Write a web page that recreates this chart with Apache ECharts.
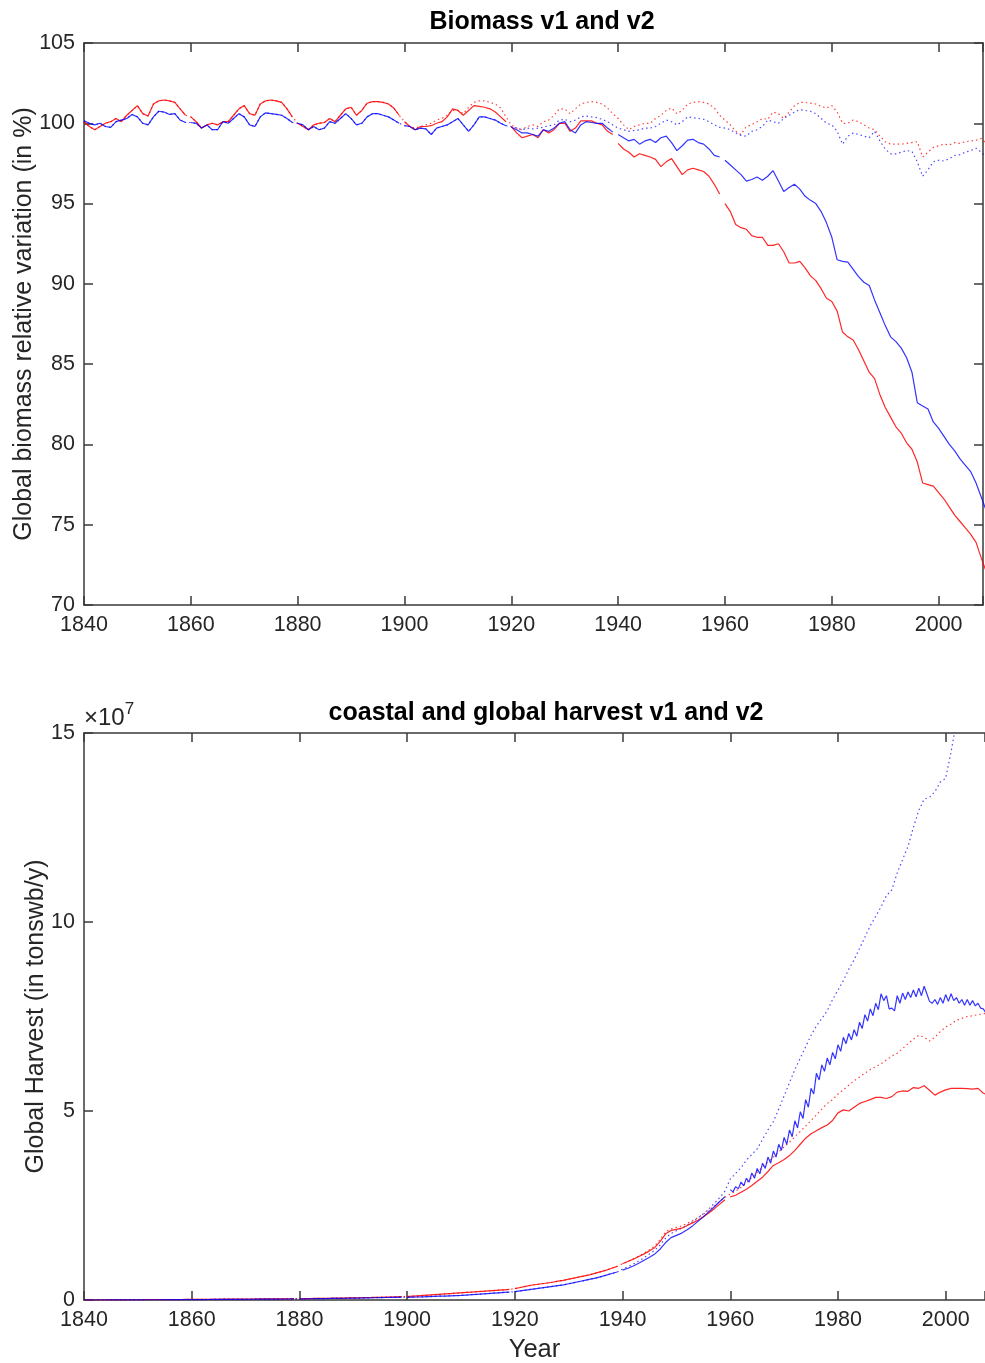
<!DOCTYPE html>
<html>
<head>
<meta charset="utf-8">
<script src="https://cdn.jsdelivr.net/npm/echarts@6/dist/echarts.min.js"></script>
<style>
html,body{margin:0;padding:0;background:#fff;}
#main{width:985px;height:1363px;}
</style>
</head>
<body>
<div id="main"></div>
<script>
// ---------------- DATA ----------------
const firstYear = 1840, lastYear = 2009;
const xTicks = [1840, 1860, 1880, 1900, 1920, 1940, 1960, 1980, 2000];
const biomassTicks = [70, 75, 80, 85, 90, 95, 100, 105];
const harvestTicks = [0, 5, 10, 15];           // in units of 10^7 tons
const titleTop = 'Biomass v1 and v2';
const titleBottom = 'coastal and global harvest v1 and v2';

// Biomass relative variation (%), annual 1840..2009
// shared early part (v1 == v2)
const bioRedEarly = [
  100.1, 99.8, 99.6, 99.8, 100.0, 100.1, 100.3, 100.1, 100.5, 100.8, 101.1, 100.6, 100.45, 101.2, 101.4, 101.45, 101.4, 101.3, 100.9, 100.5,
  100.4, 100.1, 99.7, 99.9, 100.0, 99.9, 100.1, 100.1, 100.5, 100.9, 101.1, 100.6, 100.5, 101.2, 101.4, 101.45, 101.4, 101.3, 100.9, 100.4,
  100.0, 99.8, 99.6, 99.9, 100.0, 100.05, 100.3, 100.1, 100.5, 100.9, 101.0, 100.5, 100.8, 101.25, 101.35, 101.35, 101.3, 101.2, 100.95, 100.5
];
const bioRedV1Late = [
  100.1, 99.8, 99.6, 99.8, 99.8, 99.85, 100.0, 100.1, 100.4, 100.9, 100.8, 100.5, 100.8, 101.1, 101.05, 101.0, 100.9, 100.7, 100.4, 100.1,
  99.8, 99.4, 99.1, 99.2, 99.3, 99.1, 99.6, 99.4, 99.6, 100.0, 100.0, 99.5, 99.7, 100.15, 100.15, 100.15, 100.0, 99.9, 99.5, 99.3,
  98.75, 98.4, 98.2, 97.9, 98.1, 98.0, 97.9, 97.75, 97.3, 97.6, 97.8, 97.3, 96.8, 97.1, 97.2, 97.1, 97.0, 96.7, 96.2, 95.6,
  95.0, 94.5, 93.7, 93.5, 93.4, 93.0, 92.9, 92.9, 92.4, 92.4, 92.5, 92.0, 91.3, 91.3, 91.4, 91.0, 90.5, 90.2, 89.7, 89.1,
  88.9, 88.3, 87.0, 86.7, 86.5, 85.9, 85.2, 84.5, 84.1, 83.1, 82.3, 81.7, 81.1, 80.7, 80.1, 79.7, 78.9, 77.6, 77.5, 77.4,
  77.0, 76.6, 76.1, 75.6, 75.2, 74.8, 74.4, 73.9, 72.9, 72.0
];
const bioRedV2Late = [
  100.1, 99.8, 99.7, 99.8, 99.9, 100.0, 100.2, 100.3, 100.5, 100.8, 100.8, 100.6, 101.0, 101.3, 101.4, 101.4, 101.3, 101.2, 100.95, 100.4,
  99.9, 99.7, 99.6, 99.8, 99.9, 99.8, 100.1, 100.2, 100.5, 100.9, 100.9, 100.6, 100.9, 101.2, 101.3, 101.35, 101.3, 101.2, 100.95, 100.6,
  100.3, 99.9, 99.6, 99.8, 99.9, 100.0, 100.0, 100.3, 100.5, 100.8, 100.95, 100.6, 100.8, 101.2, 101.3, 101.35, 101.3, 101.2, 100.95, 100.5,
  100.2, 99.9, 99.5, 99.3, 99.8, 99.9, 100.1, 100.3, 100.25, 100.7, 100.6, 100.3, 100.7, 101.1, 101.3, 101.3, 101.25, 101.2, 101.05, 100.95,
  101.1, 100.7, 100.0, 100.0, 100.2, 100.1, 99.9, 99.7, 99.6, 99.2, 98.85, 98.7, 98.7, 98.7, 98.75, 98.8, 98.85, 97.9, 98.2, 98.5,
  98.6, 98.7, 98.65, 98.8, 98.75, 98.85, 98.9, 98.95, 99.05, 98.7
];
const bioBlueEarly = [
  100.15, 100.0, 99.9, 100.0, 99.8, 99.75, 100.1, 100.2, 100.3, 100.55, 100.4, 100.0, 99.9, 100.4, 100.75, 100.7, 100.55, 100.6, 100.2, 100.05,
  100.05, 100.0, 99.7, 99.9, 99.6, 99.6, 100.1, 100.0, 100.3, 100.6, 100.4, 99.9, 99.8, 100.4, 100.65, 100.6, 100.55, 100.5, 100.3, 100.05,
  100.0, 99.9, 99.6, 99.8, 99.6, 99.7, 100.1, 100.0, 100.3, 100.6, 100.3, 99.9, 100.0, 100.4, 100.6, 100.6, 100.5, 100.4, 100.2, 100.0,
  99.85, 99.8, 99.6, 99.7, 99.65, 99.3, 99.7, 99.8, 99.9, 100.1, 100.3, 99.9, 99.5, 99.9, 100.4, 100.4, 100.3, 100.2, 100.0, 99.85
];
const bioBlueV1Late = [
  99.75, 99.6, 99.4, 99.4, 99.3, 99.2, 99.6, 99.5, 99.7, 100.0, 100.1, 99.6, 99.4, 99.9, 100.1, 100.05, 100.0, 100.0, 99.7, 99.45,
  99.3, 99.1, 98.9, 99.0, 98.7, 98.9, 99.0, 98.8, 99.1, 99.2, 98.8, 98.3, 98.6, 98.95, 99.0, 98.8, 98.7, 98.4, 98.0, 97.9,
  97.7, 97.4, 97.1, 96.8, 96.4, 96.5, 96.65, 96.45, 96.7, 97.05, 96.4, 95.75, 96.0, 96.2, 95.9, 95.45, 95.2, 95.0, 94.5, 93.8,
  92.9, 91.5, 91.4, 91.35, 90.9, 90.45, 90.1, 89.9, 89.0, 88.2, 87.4, 86.7, 86.4, 86.0, 85.4, 84.5, 82.6, 82.4, 82.2, 81.4,
  81.0, 80.5, 80.0, 79.6, 79.1, 78.7, 78.3, 77.6, 76.7, 75.8
];
const bioBlueV2Late = [
  99.8, 99.7, 99.6, 99.7, 99.65, 99.7, 99.75, 99.85, 99.9, 100.2, 100.25, 100.1, 100.2, 100.4, 100.45, 100.4, 100.35, 100.25, 100.1, 99.9,
  99.7, 99.6, 99.5, 99.55, 99.6, 99.7, 99.7, 99.8, 100.0, 100.2, 100.1, 99.9, 100.1, 100.4, 100.35, 100.3, 100.25, 100.1, 99.9, 99.75,
  99.7, 99.6, 99.4, 99.25, 99.2, 99.5, 99.6, 99.8, 100.2, 100.1, 100.0, 100.3, 100.5, 100.7, 100.85, 100.8, 100.75, 100.6, 100.3, 100.0,
  99.9, 99.5, 98.7, 99.2, 99.4, 99.3, 99.2, 99.1, 99.5, 98.9, 98.4, 98.1, 98.1, 98.2, 98.3, 98.25, 97.6, 96.7, 97.1, 97.6,
  97.7, 97.65, 97.8, 98.0, 98.05, 98.2, 98.3, 98.45, 98.2, 97.8
];

// Harvest (10^7 tons wb / y), annual 1840..2009
const harvRedEarly = [
  0, 0, 0, 0, 0, 0.002, 0.003, 0.004, 0.005, 0.006, 0.007, 0.008, 0.009, 0.01, 0.01, 0.011, 0.012, 0.012, 0.013, 0.014,
  0.015, 0.016, 0.017, 0.018, 0.019, 0.02, 0.021, 0.022, 0.023, 0.024, 0.025, 0.026, 0.027, 0.028, 0.029, 0.03, 0.031, 0.032, 0.033, 0.034,
  0.035, 0.037, 0.039, 0.041, 0.043, 0.045, 0.047, 0.05, 0.052, 0.055, 0.058, 0.06, 0.063, 0.066, 0.07, 0.073, 0.077, 0.08, 0.084, 0.088,
  0.09, 0.1, 0.11, 0.12, 0.13, 0.14, 0.15, 0.16, 0.17, 0.18, 0.19, 0.2, 0.21, 0.22, 0.23, 0.24, 0.25, 0.26, 0.27, 0.28,
  0.3, 0.33, 0.36, 0.39, 0.41, 0.43, 0.45, 0.47, 0.5, 0.52, 0.55, 0.58, 0.61, 0.64, 0.67, 0.71, 0.75, 0.79, 0.84, 0.89
];
const harvRedV1Late = [
  0.96, 1.02, 1.08, 1.15, 1.22, 1.3, 1.39, 1.55, 1.75, 1.84, 1.87, 1.9, 1.97, 2.04, 2.11, 2.2, 2.3, 2.41, 2.53, 2.65,
  2.73, 2.77, 2.85, 2.93, 3.03, 3.14, 3.25, 3.4, 3.56, 3.63, 3.72, 3.82, 3.96, 4.12, 4.28, 4.4, 4.48, 4.56, 4.63, 4.75,
  4.95, 5.03, 5.0, 5.1, 5.2, 5.25, 5.3, 5.36, 5.36, 5.33, 5.38, 5.5, 5.53, 5.52, 5.62, 5.6, 5.67, 5.55, 5.42, 5.5,
  5.56, 5.6, 5.6, 5.6, 5.59, 5.58, 5.6, 5.47, 5.42, 5.4
];
const harvRedV2Late = [
  0.96, 1.02, 1.09, 1.16, 1.24, 1.33, 1.43, 1.6, 1.8, 1.88, 1.92, 1.96, 2.03, 2.1, 2.18, 2.27, 2.37, 2.48, 2.6, 2.72,
  2.8, 2.88, 2.98, 3.1, 3.24, 3.38, 3.52, 3.65, 3.78, 3.92, 4.05, 4.18, 4.32, 4.46, 4.6, 4.75, 4.9, 5.05, 5.2, 5.3,
  5.45, 5.56, 5.68, 5.8, 5.9, 6.0, 6.1, 6.17, 6.25, 6.35, 6.45, 6.53, 6.65, 6.78, 6.9, 7.0, 6.95, 6.85, 6.95, 7.1,
  7.22, 7.3, 7.4, 7.45, 7.5, 7.52, 7.55, 7.57, 7.6, 7.62
];
const harvBlueEarly = [
  0, 0, 0, 0, 0, 0.001, 0.002, 0.003, 0.003, 0.004, 0.005, 0.005, 0.006, 0.007, 0.007, 0.008, 0.009, 0.009, 0.01, 0.01,
  0.011, 0.012, 0.012, 0.013, 0.014, 0.015, 0.015, 0.016, 0.017, 0.018, 0.019, 0.02, 0.021, 0.022, 0.023, 0.024, 0.025, 0.026, 0.027, 0.028,
  0.03, 0.031, 0.033, 0.035, 0.037, 0.039, 0.041, 0.043, 0.045, 0.047, 0.05, 0.052, 0.055, 0.058, 0.06, 0.063, 0.066, 0.069, 0.072, 0.075,
  0.07, 0.075, 0.08, 0.085, 0.09, 0.095, 0.1, 0.105, 0.11, 0.115, 0.12, 0.13, 0.14, 0.15, 0.16, 0.17, 0.18, 0.19, 0.2, 0.21,
  0.22, 0.24, 0.26, 0.28, 0.3, 0.32, 0.34, 0.36, 0.38, 0.4, 0.43, 0.46, 0.49, 0.52, 0.55, 0.58, 0.62, 0.66, 0.7, 0.74
];
const harvBlueV1Mid = [ // 1940..1959 annual
  0.79, 0.84, 0.9, 0.97, 1.05, 1.13, 1.22, 1.35, 1.52, 1.65, 1.71, 1.77, 1.86, 1.96, 2.08, 2.2, 2.33, 2.46, 2.6, 2.73
];
const harvBlueV1HalfYear = [ // 1960.0, 1960.5, ... 2009.0
  2.92, 2.86, 3.0, 2.94, 3.12, 3.02, 3.22, 3.12, 3.36, 3.22, 3.48, 3.34, 3.62, 3.48, 3.78, 3.62, 3.94, 3.78, 4.12, 3.96,
  4.3, 4.12, 4.5, 4.32, 4.74, 4.55, 4.98, 4.8, 5.3, 5.1, 5.6, 5.45, 6.0, 5.82, 6.22, 6.05, 6.4, 6.22, 6.55, 6.38,
  6.75, 6.58, 6.95, 6.78, 7.05, 6.88, 7.15, 6.98, 7.35, 7.18, 7.55, 7.38, 7.7, 7.52, 7.85, 7.68, 8.1, 7.92, 8.05, 7.7,
  7.72, 7.65, 8.05, 7.85, 8.12, 7.95, 8.15, 8.0, 8.2, 8.02, 8.25, 8.05, 8.3, 8.1, 7.9, 7.85, 7.95, 7.82, 8.0, 7.85,
  8.08, 7.9, 8.1, 7.92, 8.0, 7.85, 7.95, 7.8, 7.95, 7.8, 7.92, 7.78, 7.85, 7.72, 7.7, 7.58, 7.6, 7.52, 7.5
];
const harvBlueV2Late = [
  0.82, 0.88, 0.95, 1.03, 1.12, 1.22, 1.32, 1.46, 1.64, 1.76, 1.83, 1.9, 1.98, 2.07, 2.17, 2.28, 2.41, 2.55, 2.7, 2.88,
  3.2, 3.35, 3.5, 3.7, 3.85, 4.0, 4.25, 4.5, 4.72, 5.05, 5.4, 5.75, 6.1, 6.4, 6.7, 7.0, 7.25, 7.45, 7.65, 7.95,
  8.2, 8.45, 8.75, 9.0, 9.3, 9.6, 9.9, 10.15, 10.4, 10.7, 10.85, 11.3, 11.65, 12.0, 12.5, 12.95, 13.25, 13.3, 13.45, 13.7,
  13.8, 14.5, 15.3, 15.8, 16.2, 16.6, 17.0, 17.4, 17.8, 18.2
];
const topBreaks = [1860, 1880, 1900, 1920, 1940, 1960];
const bottomBreaks = [1880, 1900, 1920, 1940, 1960];

// ---------------- BUILD ----------------
const years = [];
for (let y = firstYear; y <= lastYear; y++) years.push(y);
const halfYears = harvBlueV1HalfYear.map((_, i) => 1960 + i / 2);

function pairs(xs, vs) { return xs.map((x, i) => [x, vs[i]]); }
function withBreaks(xs, vs, breaks) {
  const out = [];
  xs.forEach((x, i) => {
    if (i > 0 && breaks.indexOf(x) >= 0) out.push([x - 0.5, '-']);
    out.push([x, vs[i]]);
  });
  return out;
}

const bioRedV1 = bioRedEarly.concat(bioRedV1Late);
const bioRedV2 = bioRedEarly.concat(bioRedV2Late);
const bioBlueV1 = bioBlueEarly.concat(bioBlueV1Late);
const bioBlueV2 = bioBlueEarly.concat(bioBlueV2Late);
const harvRedV1 = harvRedEarly.concat(harvRedV1Late);
const harvRedV2 = harvRedEarly.concat(harvRedV2Late);
const harvBlueV2 = harvBlueEarly.concat(harvBlueV2Late);
const harvBlueV1X = years.slice(0, 120).concat(halfYears);
const harvBlueV1 = harvBlueEarly.concat(harvBlueV1Mid).concat(harvBlueV1HalfYear);

const RED = 'rgba(255,0,0,0.85)', BLUE = 'rgba(0,0,255,0.8)';
const RED_DOT = 'rgba(255,0,0,0.75)', BLUE_DOT = 'rgba(0,0,255,0.7)';
const AX = '#3a3a3a', TXT = '#262626';
const FONT = 'Liberation Sans, Arial, Helvetica, sans-serif';

function xAx(grid, pos, max, opts) {
  return Object.assign({
    type: 'value', gridIndex: grid, position: pos, min: firstYear, max: max, interval: 20,
    nameMoveOverlap: false,
    axisLine: { show: true, onZero: false, lineStyle: { color: AX, width: 1.5 } },
    axisTick: { show: true, inside: true, length: 9, lineStyle: { color: AX, width: 1.5 } },
    axisLabel: pos === 'bottom' ? {
      show: true, fontSize: 21.5, color: TXT, fontFamily: FONT, margin: 9,
      formatter: v => xTicks.indexOf(v) >= 0 ? String(v) : ''
    } : { show: false },
    splitLine: { show: false }
  }, opts || {});
}
function yAx(grid, pos, ticks, opts) {
  return Object.assign({
    type: 'value', gridIndex: grid, position: pos,
    min: ticks[0], max: ticks[ticks.length - 1], interval: ticks[1] - ticks[0],
    nameMoveOverlap: false,
    axisLine: { show: true, onZero: false, lineStyle: { color: AX, width: 1.5 } },
    axisTick: { show: true, inside: true, length: 9, lineStyle: { color: AX, width: 1.5 } },
    axisLabel: pos === 'left' ? { show: true, fontSize: 21.5, color: TXT, fontFamily: FONT, margin: 9 } : { show: false },
    splitLine: { show: false }
  }, opts || {});
}
function line(xi, yi, data, color, dotted) {
  return {
    type: 'line', xAxisIndex: xi, yAxisIndex: yi, data: data, symbol: 'none', showSymbol: false,
    clip: true, connectNulls: false, silent: true,
    lineStyle: { color: color, width: 1.2, type: dotted ? [1.5, 3] : 'solid' }
  };
}

const chart = echarts.init(document.getElementById('main'));
chart.setOption({
  animation: false,
  backgroundColor: '#fff',
  title: [
    { text: titleTop, left: 537, top: 5, textAlign: 'center',
      textStyle: { fontSize: 25, fontWeight: 'bold', color: '#000', fontFamily: FONT } },
    { text: titleBottom, left: 541, top: 696, textAlign: 'center',
      textStyle: { fontSize: 25, fontWeight: 'bold', color: '#000', fontFamily: FONT } }
  ],
  graphic: [{
    type: 'text', left: 84, top: 701,
    style: {
      text: '{a|×10}{b|7}',
      rich: {
        a: { fontSize: 24, fontFamily: FONT, fill: TXT, verticalAlign: 'bottom', lineHeight: 29 },
        b: { fontSize: 17, fontFamily: FONT, fill: TXT, verticalAlign: 'top', lineHeight: 29 }
      }
    }
  }],
  grid: [
    { left: 84, top: 43, width: 899, height: 562, outerBoundsMode: 'none', containLabel: false },
    { left: 84, top: 733, width: 901, height: 567, outerBoundsMode: 'none', containLabel: false }
  ],
  xAxis: [
    xAx(0, 'bottom', 2008.3),
    xAx(0, 'top', 2008.3),
    xAx(1, 'bottom', 2007.3, { name: 'Year', nameLocation: 'middle', nameGap: 37,
      nameTextStyle: { fontSize: 25.5, color: TXT, fontFamily: FONT } }),
    xAx(1, 'top', 2007.3)
  ],
  yAxis: [
    yAx(0, 'left', biomassTicks, { name: 'Global biomass relative variation (in %)', nameLocation: 'middle', nameGap: 47,
      nameTextStyle: { fontSize: 25, color: TXT, fontFamily: FONT } }),
    yAx(0, 'right', biomassTicks),
    yAx(1, 'left', harvestTicks, { name: 'Global Harvest (in tonswb/y)', nameLocation: 'middle', nameGap: 35,
      nameTextStyle: { fontSize: 25, color: TXT, fontFamily: FONT } })
  ],
  series: [
    line(0, 0, pairs(years, bioRedV2), RED_DOT, true),
    line(0, 0, pairs(years, bioBlueV2), BLUE_DOT, true),
    line(0, 0, withBreaks(years, bioRedV1, topBreaks), RED, false),
    line(0, 0, withBreaks(years, bioBlueV1, topBreaks), BLUE, false),
    line(2, 2, pairs(years, harvRedV2), RED_DOT, true),
    line(2, 2, pairs(years, harvBlueV2), BLUE_DOT, true),
    line(2, 2, withBreaks(years, harvRedV1, bottomBreaks), RED, false),
    line(2, 2, withBreaks(harvBlueV1X, harvBlueV1, bottomBreaks), BLUE, false)
  ]
});
</script>
</body>
</html>
